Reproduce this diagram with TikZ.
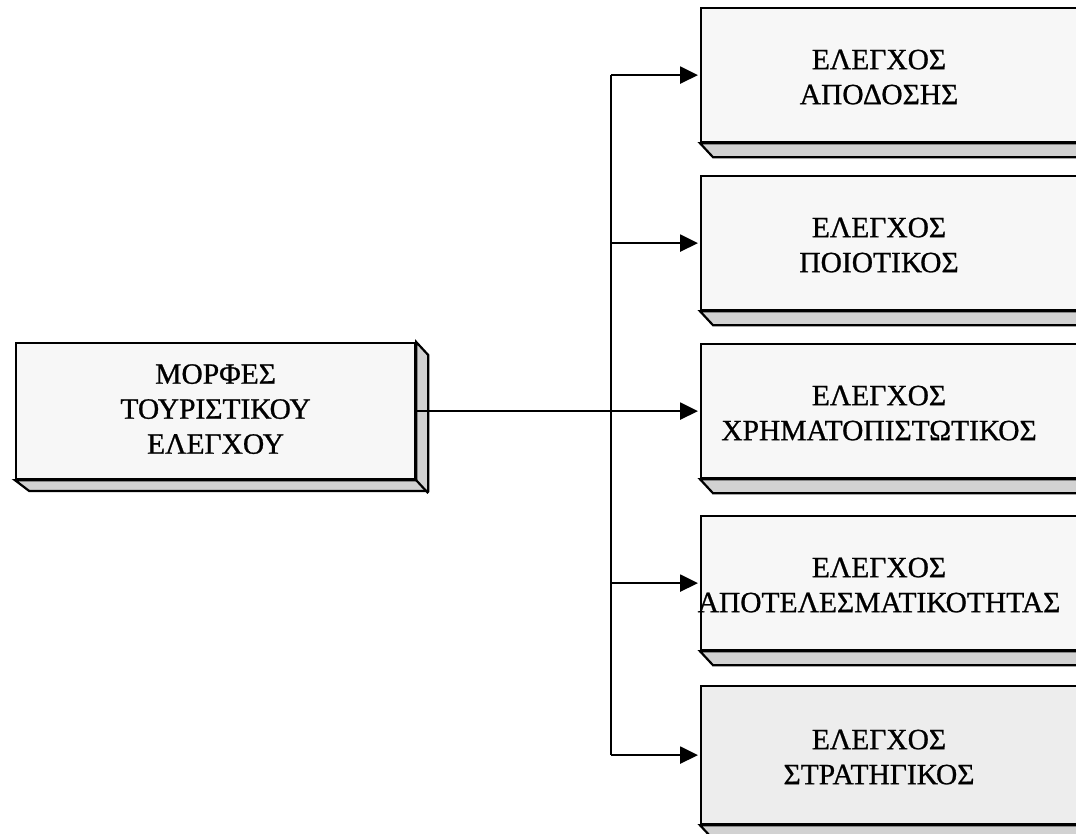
\documentclass[tikz,border=0pt]{standalone}
\usepackage{fontspec}
\setmainfont{Liberation Serif}
\newfontfamily\lblfont{Liberation Serif}[FakeBold=0.8]
\usetikzlibrary{arrows.meta}
\begin{document}
\begin{tikzpicture}[x=1pt,y=-1pt,
  face/.style={draw, line width=2.2pt, fill=gray!6, rectangle, inner sep=0pt, anchor=north west},
  slab/.style={draw, line width=2.2pt, fill=gray!35, line join=miter},
  lbl/.style={font=\lblfont\fontsize{29.5}{35}\selectfont, align=center, inner sep=0pt},
  conn/.style={line width=2.5pt},
  arr/.style={line width=2.5pt, -{Triangle[length=18pt,width=17pt]}, shorten >=2pt}
]
\useasboundingbox (0,0) rectangle (1076,834);
\clip (0,0) rectangle (1076,834);

% left box
\node[face, minimum width=399pt, minimum height=136pt] (lb) at (15,342) {};
\draw[slab] (lb.north east) -- ++(12,13) -- ++(0,136) -- ++(-399,0) -- (lb.south west) -- (lb.south east) -- cycle;
\draw[line width=2.2pt] (lb.south east) -- ++(12,13);
\node[lbl] (lt) at ([yshift=2pt]lb.center) {ΜΟΡΦΕΣ\\ΤΟΥΡΙΣΤΙΚΟΥ\\ΕΛΕΓΧΟΥ};

% right boxes
\node[face, minimum width=420pt, minimum height=134pt] (r1) at (700,7) {};
\node[face, minimum width=420pt, minimum height=134pt] (r2) at (700,175) {};
\node[face, minimum width=420pt, minimum height=134pt] (r3) at (700,343) {};
\node[face, minimum width=420pt, minimum height=134pt] (r4) at (700,515) {};
\node[face, minimum width=420pt, minimum height=138pt, fill=gray!14] (r5) at (700,685) {};
\foreach \r in {r1,r2,r3,r4,r5}{
  \draw[slab] (\r.south west) -- ++(13,14) -- ++(420,0) -- (\r.south east) -- cycle;
}
\node[lbl] (t1) at ([yshift=-2pt]r1.west -| 879,0) {ΕΛΕΓΧΟΣ\\ΑΠΟΔΟΣΗΣ};
\node[lbl] (t2) at ([yshift=-2pt]r2.west -| 879,0) {ΕΛΕΓΧΟΣ\\ΠΟΙΟΤΙΚΟΣ};
\node[lbl] (t3) at ([yshift=-2pt]r3.west -| 879,0) {ΕΛΕΓΧΟΣ\\ΧΡΗΜΑΤΟΠΙΣΤΩΤΙΚΟΣ};
\node[lbl] (t4) at ([yshift=-2pt]r4.west -| 879,0) {ΕΛΕΓΧΟΣ\\ΑΠΟΤΕΛΕΣΜΑΤΙΚΟΤΗΤΑΣ};
\node[lbl] (t5) at ([yshift=-2pt]r5.west -| 879,0) {ΕΛΕΓΧΟΣ\\ΣΤΡΑΤΗΓΙΚΟΣ};

% connectors
\coordinate (k1) at (r1.west -| 611,0);
\coordinate (k2) at (r2.west -| 611,0);
\coordinate (k4) at (r4.west -| 611,0);
\coordinate (k5) at (r5.west -| 611,0);
\draw[conn] (k1) -- (k5);
\draw[arr] (lb.east) -- (r3.west);
\draw[arr] (k1) -- (r1.west);
\draw[arr] (k2) -- (r2.west);
\draw[arr] (k4) -- (r4.west);
\draw[arr] (k5) -- (r5.west);
\end{tikzpicture}
\end{document}
